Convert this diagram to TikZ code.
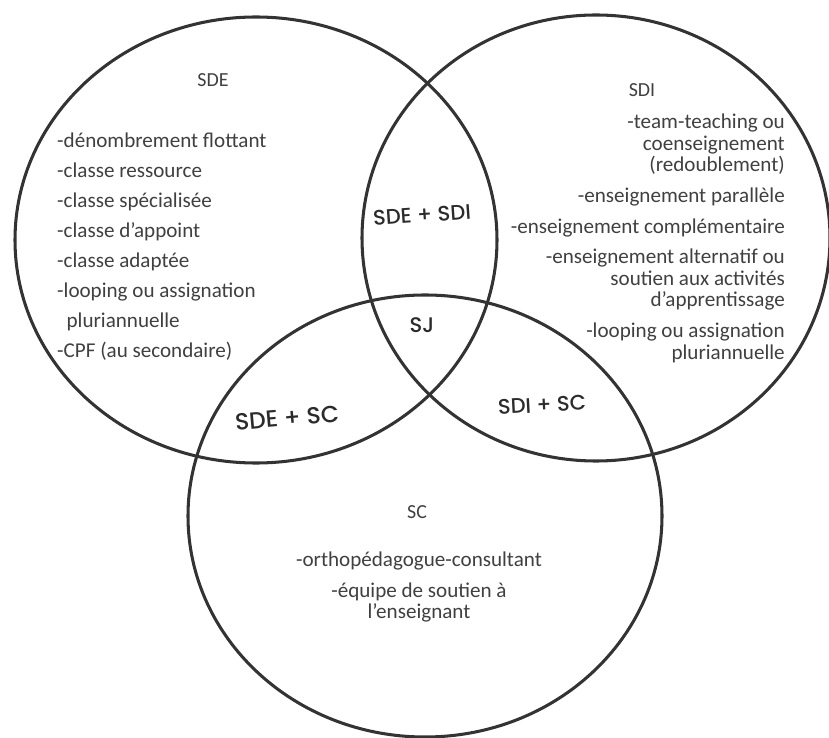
\documentclass[tikz,border=0pt]{standalone}
\usepackage{fontspec}
\setmainfont{Carlito}
\newfontfamily\handfont{Poppins}[UprightFont=* Medium]
\usepackage{tikz}
\usetikzlibrary{positioning}
\definecolor{Ink}{HTML}{333333}
\definecolor{ListGrey}{HTML}{404040}
\definecolor{Marker}{HTML}{2B2B2B}
\tikzset{
  ring/.style={draw=Ink, line width=2.6pt},
  zonetitle/.style={text=ListGrey, font=\fontsize{17}{20}\selectfont, inner sep=0pt},
  itemlist/.style={text=ListGrey, inner sep=0pt},
  handlabel/.style={text=Marker, font=\handfont\fontsize{18}{20}\selectfont, inner sep=0pt}
}

\begin{document}
\begin{tikzpicture}[x=0.03cm, y=-0.03cm]
    \useasboundingbox (0,0) rectangle (829,738);

    % Three overlapping zones
    \coordinate (sde) at (256,240);
    \coordinate (sdi) at (596,238);
    \coordinate (sc) at (425,516);
    \draw[ring] (sde) ellipse [x radius=241, y radius=223];
    \draw[ring] (sdi) ellipse [x radius=234, y radius=223];
    \draw[ring] (sc) ellipse [x radius=237, y radius=221];

    % Zone titles
    \node[zonetitle] (sdetitle) at (213,80) {SDE};
    \node[zonetitle] (sdititle) at (642,90) {SDI};
    \node[zonetitle] (sctitle) at (417,512) {SC};

    % SDE list
    \node[itemlist, anchor=north west, align=left,
          font=\fontsize{18}{25.6}\selectfont] (sdelist) at (57,133) {
        -dénombrement flottant\\
        -classe ressource\\
        -classe spécialisée\\
        -classe d'appoint\\
        -classe adaptée\\
        -looping ou assignation\\
        \hspace*{8pt}pluriannuelle\\
        -CPF (au secondaire)
    };

    % SDI list
    \node[itemlist, anchor=north east, align=right,
          font=\fontsize{18}{18.4}\selectfont] (sdilist) at (785,114) {
        -team-teaching ou\\
        coenseignement\\
        (redoublement)\\[8pt]
        -enseignement parallèle\\[7.5pt]
        -enseignement complémentaire\\[7.5pt]
        -enseignement alternatif ou\\
        soutien aux activités\\
        d'apprentissage\\[8pt]
        -looping ou assignation\\
        pluriannuelle
    };

    % SC list
    \node[itemlist, anchor=north, align=center,
          font=\fontsize{18}{18.4}\selectfont] (sclist) at (419,552) {
        -orthopédagogue-consultant\\[7.5pt]
        -équipe de soutien à\\
        l'enseignant
    };

    % Overlap labels (hand lettered)
    \node[handlabel, rotate=4] (sdesdi) at (422,215) {SDE + SDI};
    \node[handlabel] (sj) at (422,325) {SJ};
    \node[handlabel, rotate=5, font=\handfont\fontsize{20}{22}\selectfont]
        (sdesc) at (287,418) {SDE + SC};
    \node[handlabel, rotate=3] (sdisc) at (542,405) {SDI + SC};
\end{tikzpicture}
\end{document}
